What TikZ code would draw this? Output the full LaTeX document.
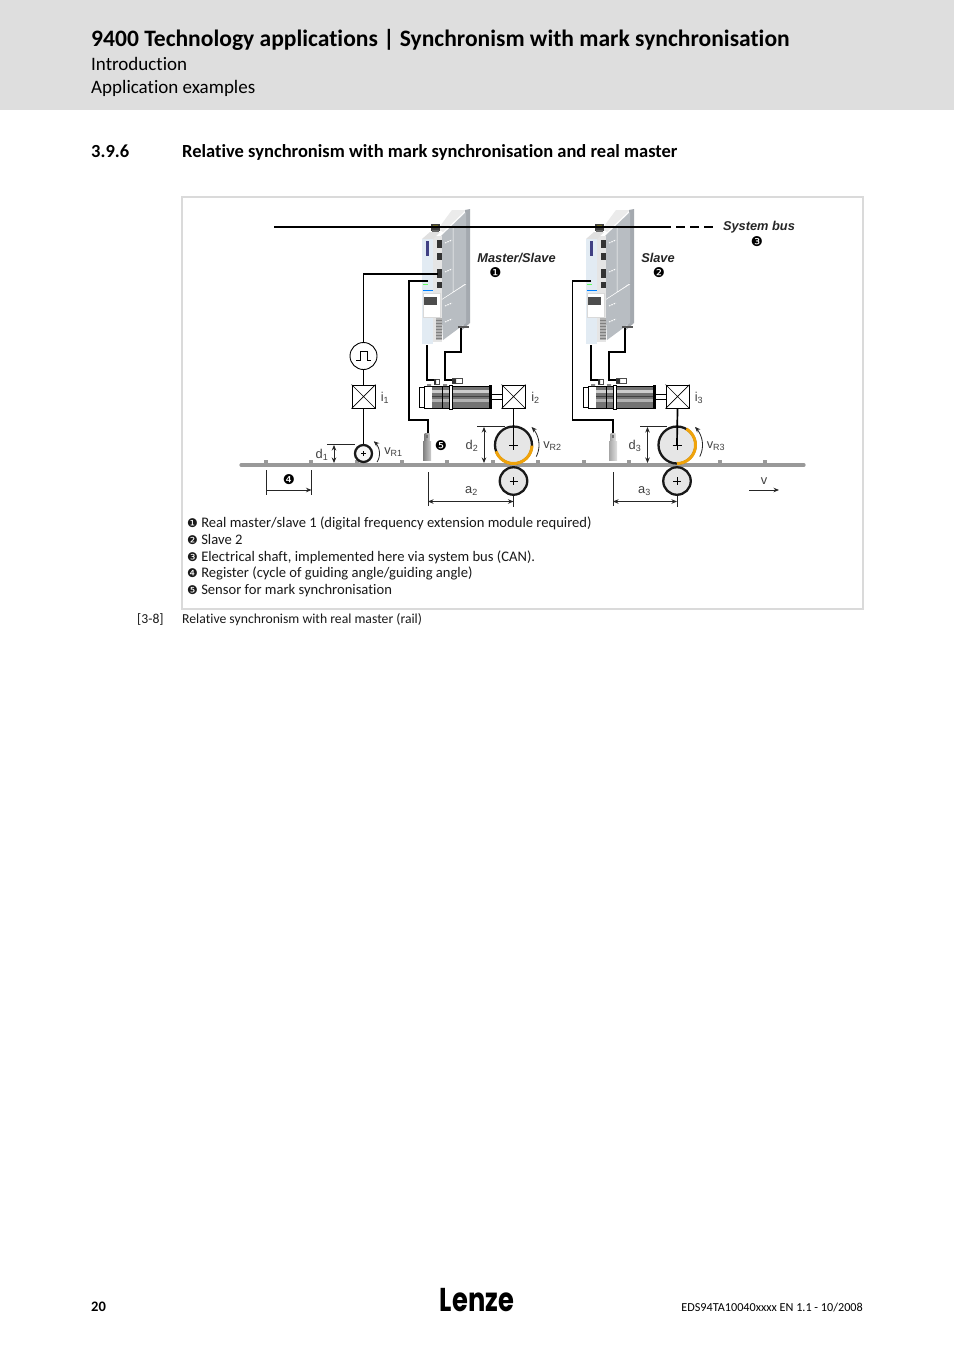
\documentclass[tikz,border=0pt]{standalone}
\usepackage{fontspec}
\setmainfont[Ligatures=NoCommon]{Carlito}
\newfontfamily\arl{Liberation Sans}
\newfontfamily\dvs{DejaVu Sans}
\newfontfamily\logof{Poppins}
\usetikzlibrary{arrows.meta}
\definecolor{hdr}{HTML}{DEDEDE}
\definecolor{frm}{HTML}{DADADA}
\definecolor{rail}{HTML}{999999}
\definecolor{rollerfill}{HTML}{E6E6E6}
\definecolor{orangearc}{HTML}{F0A30A}
\definecolor{sidegray}{HTML}{A4A9AF}
\definecolor{sidelight}{HTML}{B8BDC2}
\definecolor{panelblue}{HTML}{E2EBF3}
\newcommand{\fs}[1]{\fontsize{#1}{#1}\selectfont}
\newcommand{\cn}[1]{{\dvs\fs{12}#1}}
\newcommand{\cnb}[1]{{\dvs\fs{13.5}#1}}
\tikzset{
  x=1pt,y=-1pt,
  wire/.style={draw=black,line width=1.7pt},
  thinl/.style={draw=black!85,line width=0.9pt},
  dimarrow/.style={draw=black!85,line width=0.8pt,{Stealth[length=5.5pt,width=4.5pt]}-{Stealth[length=5.5pt,width=4.5pt]}},
  onearrow/.style={draw=black!85,line width=0.8pt,-{Stealth[length=5.5pt,width=4.5pt]}},
  txt/.style={inner sep=0pt,anchor=base west,text=black!90,font=\fs{14.6}},
  dlabel/.style={inner sep=0pt,font=\arl\fs{12.8},text=black!75},
  blabel/.style={inner sep=0pt,font=\arl\bfseries\itshape\fs{12.8},text=black!85},
  enc/.style={draw=black,line width=1pt,fill=white,minimum size=23pt,inner sep=0pt},
  roller/.style={circle,draw=black!90,line width=2.3pt,fill=rollerfill,inner sep=0pt},
}
\newcommand{\drive}{%
  % top strip
  \fill[black!8] (438,229) -- (452,210) -- (466,210) -- (443,232) -- cycle;
  % right strip
  \fill[sidegray] (465,210) -- (470,209) -- (470,323) -- (462,330) -- (465,320) -- cycle;
  % side faces
  \fill[sidelight] (441,236) -- (466,212) -- (466,283) -- (441,300) -- cycle;
  \fill[sidelight] (441,300) -- (466,284) -- (466,323) -- (443,340) -- cycle;
  \draw[white,line width=.5pt] (441,300) -- (466,284) (453,292) -- (453,228);
  \fill[black!65] (458,325.5) rectangle (469,327.5);
  \foreach \yy in {243,272,306,322}{\draw[white,line width=1pt,dash pattern=on 1.5pt off 1pt] (445,\yy) -- ++(7,-3);}
  % connector column
  \fill[black!10] (433,236) rectangle (442,342);
  \foreach \yy/\hh in {240/8,253/7,269/9,282/6}{\fill[black!80] (437,\yy) rectangle +(5,\hh);}
  \fill[black!30] (436,318) rectangle (441.5,340);
  \foreach \yy in {320,323,...,338}{\draw[black!50,line width=.3pt] (436,\yy) -- (441.5,\yy);}
  % front panel
  \fill[black!12] (422,239) -- (430,232) -- (440,232) -- (433,239) -- cycle;
  \fill[panelblue] (422,239) rectangle (433,344);
  \fill[blue!35!black!75] (426,241) rectangle (429,256);
  \fill[green!60!white] (423,284) rectangle (428,285);
  \fill[blue!50!cyan] (423,289.5) rectangle (433,290.5);
  % keypad
  \fill[white,draw=black!15,line width=.3pt] (423,293) rectangle (440,317);
  \fill[black!70] (424,297) rectangle (437,305);
  % bus connector
  \fill[black!75] (431,224) rectangle (440,231);
  \fill[olive!70!black] (433,224.5) rectangle (438,227.5);
}
\newcommand{\motor}{%
  \fill[white] (418,386) rectangle (433,408);
  \draw[black,line width=.8pt] (419,387) -- (424,387) -- (424,407) -- (419,407) -- cycle (424,386) rectangle (432,408);
  \fill[black!55] (432,386) rectangle (490,408);
  \fill[black!20] (432,390) rectangle (490,393);
  \fill[black!30] (432,398.5) rectangle (490,402);
  \fill[black!75] (432,395.5) rectangle (490,396.5);
  \draw[black,line width=.9pt] (424,386) -- (490,386) (424,408) -- (490,408);
  \draw[black,line width=.7pt] (442,386) -- (442,408);
  \fill[white,draw=black,line width=.7pt] (449.5,385) rectangle (452.5,409);
  \fill[black] (489,385) rectangle (491.5,409);
  \draw[black,line width=.7pt] (491,394) -- (502,394) (491,399.5) -- (502,399.5);
  \fill[black!45] (427,384) rectangle (431,386) (443,384) rectangle (447,386);
  \draw[black!70,line width=.6pt] (434,379) rectangle (439,384) (452,378.5) rectangle (462,383.5);
  \fill[black!80] (434,379) rectangle (436,384) (452,379) rectangle (456,383.5);
}
\newcommand{\sensor}[2]{%
  \shade[left color=black!#1,right color=black!#2] (424.5,433) rectangle (429.5,441);
  \shade[left color=black!#1,right color=black!#2] (423,441) rectangle (431,460);
  \fill[black!55] (426,435) rectangle (428,438);
}
\begin{document}
\begin{tikzpicture}
\useasboundingbox (0,0) rectangle (954,1350);
\fill[white] (0,0) rectangle (954,1350);
\fill[hdr] (0,0) rectangle (954,110);
\node[inner sep=0pt,anchor=base west,font=\bfseries\fs{23.55}] (title) at (91,46.5) {9400 Technology applications | Synchronism with mark synchronisation};
\node[inner sep=0pt,anchor=base west,font=\fs{19}] (sub1) at (91,70) {Introduction};
\node[inner sep=0pt,anchor=base west,font=\fs{19}] (sub2) at (91,93) {Application examples};
\node[inner sep=0pt,anchor=base west,font=\bfseries\fs{18.5}] (secnum) at (91,157) {3.9.6};
\node[inner sep=0pt,anchor=base west,font=\bfseries\fs{18.5}] (sectitle) at (182,157) {Relative synchronism with mark synchronisation and real master};
\draw[frm,line width=2pt] (182,197) rectangle (863,609);
% drives
\drive
\begin{scope}[shift={(164,0)}]\drive\end{scope}
% system bus
\coordinate (busL) at (274,227);
\coordinate (busR) at (671,227);
\coordinate (busE) at (713,227);
\draw[black,line width=2pt] (busL) -- (busR);
\draw[black,line width=2pt,dash pattern=on 9pt off 5pt] (busR) ++(5,0) -- (busE);
\fill[black!60] (432,230) rectangle (439,232);
\fill[black!60] (596,230) rectangle (603,232);
% rail
\draw[rail,line width=3.2pt,line cap=round] (241,465) -- (804,465);
\foreach \xx in {266,311,357,402,447,493,538,584,629,675,720,765}{\fill[rail] (\xx-2,459.5) rectangle (\xx+2,465);}
% motors
\motor
\begin{scope}[shift={(164,0)}]\motor\end{scope}
\sensor{50}{20}
\begin{scope}[shift={(186,0)}]\sensor{35}{12}\end{scope}
% encoders
\node[enc] (i1) at (363.5,396.5) {};
\node[enc] (i2) at (513.5,396.5) {};
\node[enc] (i3) at (677.5,396.5) {};
\foreach \n in {i1,i2,i3}{\draw[black,line width=.7pt] (\n.north west) -- (\n.south east) (\n.north east) -- (\n.south west);}
% rollers
\node[roller,minimum size=37pt] (r2) at (513.5,445) {};
\node[roller,minimum size=37pt] (r3) at (677,445) {};
\node[roller,minimum size=27.5pt] (l2) at (513.5,481) {};
\node[roller,minimum size=27.5pt] (l3) at (677,481) {};
\node[roller,minimum size=17pt,fill=white!60!rollerfill] (r1) at (363.5,453.5) {};
\draw[orangearc,line width=3pt] plot[domain=200:358,samples=40] ({513.5+18.5*cos(\x)},{445-18.5*sin(\x)});
\draw[orangearc,line width=3pt] plot[domain=-90:60,samples=40] ({677+18.5*cos(\x)},{445-18.5*sin(\x)});
% crosses
\foreach \n/\s in {r1/2.5,r2/4.5,r3/4.5,l2/4,l3/4}{\draw[black,line width=.7pt] (\n.center) ++(-\s,0) -- ++(2*\s,0) (\n.center) ++(0,-\s) -- ++(0,2*\s);}
% pulse
\node[circle,draw=black,line width=.9pt,fill=white,minimum size=27pt,inner sep=0pt] (pulse) at (363.5,356) {};
\draw[black,line width=.8pt] (356,360) -- (360,360) -- (360,351) -- (367,351) -- (367,360) -- (371,360);
% signal lines
\draw[black,line width=.9pt] (r1) -- (i1);
\draw[black,line width=.9pt] (i1) -- (pulse);
\draw[black,line width=.9pt] (i2.south) -- (r2.center);
\draw[black,line width=1.7pt] (i3.south) -- (r3.center);
\coordinate (p1) at (438,274);
\draw[black,line width=1.3pt] (pulse.north) |- (p1);
% drive wires
\coordinate (s1) at (428,433);
\coordinate (s2) at (613,433);
\coordinate (d1a) at (428,281);
\coordinate (d2a) at (591,281);
\draw[wire] (d1a) -- (409,281) -- (409,420) -- (428,420) -- (s1);
\draw[wire] (d2a) -- (572.5,281) -- (572.5,420) -- (613,420) -- (s2);
\foreach \dx in {0,164}{
  \begin{scope}[shift={(\dx,0)}]
  \coordinate (m1) at (434,380);
  \coordinate (m2) at (452,380);
  \draw[wire] (427,345) -- (427,380) -- (m1);
  \draw[wire] (461,328) -- (461,352) -- (445,352) -- (445,380) -- (m2);
  \end{scope}
}
% d dimensions
\draw[thinl] (327,444) -- (355,444);
\draw[dimarrow] (334,445) -- (334,463);
\draw[thinl] (477,426.5) -- (505,426.5);
\draw[dimarrow] (484,427) -- (484,463);
\draw[thinl] (640,426.5) -- (667,426.5);
\draw[dimarrow] (647.5,427) -- (647.5,463);
% register
\draw[thinl] (266,470) -- (266,495) (311.5,470) -- (311.5,495);
\draw[onearrow] (266,490) -- (311.5,490);
% a dims
\draw[thinl] (428,472) -- (428,506) (513.5,496) -- (513.5,507);
\draw[dimarrow] (428,501.5) -- (513.5,501.5);
\draw[thinl] (613,472) -- (613,506) (677,496) -- (677,507);
\draw[dimarrow] (613,501.5) -- (677,501.5);
% v
\coordinate (va) at (749,490);
\coordinate (vb) at (779,490);
\draw[onearrow] (va) -- (vb);
% speed arcs
\draw[onearrow] plot[domain=-32:50,samples=25] ({363.5+16*cos(\x)},{453.5-16*sin(\x)});
\draw[onearrow] plot[domain=-27:45,samples=25] ({513.5+25.5*cos(\x)},{445-25.5*sin(\x)});
\draw[onearrow] plot[domain=-27:45,samples=25] ({677+25.5*cos(\x)},{445-25.5*sin(\x)});
% labels
\node[blabel] (lm) at (516.5,258) {Master/Slave};
\node[inner sep=0pt] (n1) at (495.5,272.5) {\cnb{❶}};
\node[blabel] (ls) at (658,258) {Slave};
\node[inner sep=0pt] (n2) at (659,272.5) {\cnb{❷}};
\node[blabel] (lb) at (759,227.5) {System bus};
\node[inner sep=0pt] (n3) at (757,241.5) {\cnb{❸}};
\node[inner sep=0pt] (n4) at (289,479.5) {\cnb{❹}};
\node[inner sep=0pt] (n5) at (441,445.5) {\cnb{❺}};
\node[dlabel] (ti1) at (385,398) {i\textsubscript{1}};
\node[dlabel] (ti2) at (535.5,398) {i\textsubscript{2}};
\node[dlabel] (ti3) at (699,398) {i\textsubscript{3}};
\node[dlabel] (td1) at (322,454.5) {d\textsubscript{1}};
\node[dlabel] (td2) at (472,446) {d\textsubscript{2}};
\node[dlabel] (td3) at (635,446) {d\textsubscript{3}};
\node[dlabel] (ta2) at (471.5,491) {a\textsubscript{2}};
\node[dlabel] (ta3) at (644.5,491) {a\textsubscript{3}};
\node[dlabel] (tv) at (764,481) {v};
\node[dlabel] (tr1) at (393.5,452) {v\textsubscript{R1}};
\node[dlabel] (tr2) at (552.5,446.5) {v\textsubscript{R2}};
\node[dlabel] (tr3) at (716,446.5) {v\textsubscript{R3}};
% legend
\node[txt] (lg1) at (187,527) {\cn{❶} Real master/slave 1 (digital frequency extension module required)};
\node[txt] (lg2) at (187,544) {\cn{❷} Slave 2};
\node[txt] (lg3) at (187,561) {\cn{❸} Electrical shaft, implemented here via system bus (CAN).};
\node[txt] (lg4) at (187,577.5) {\cn{❹} Register (cycle of guiding angle/guiding angle)};
\node[txt] (lg5) at (187,594.5) {\cn{❺} Sensor for mark synchronisation};
\node[txt,font=\fs{13.7}] (capn) at (137,623.5) {[3-8]};
\node[txt,font=\fs{13.7}] (capt) at (182,623.5) {Relative synchronism with real master (rail)};
% footer
\node[inner sep=0pt,anchor=base west,font=\bfseries\fs{14.5}] (page) at (91,1311) {20};
\node[inner sep=0pt,anchor=base east,font=\fs{12.2}] (doc) at (863,1311) {EDS94TA10040xxxx EN 1.1 - 10/2008};
\node[inner sep=0pt,xscale=.78,font=\logof\bfseries\fs{33}] (logo) at (477,1300) {Lenze};
\end{tikzpicture}
\end{document}
